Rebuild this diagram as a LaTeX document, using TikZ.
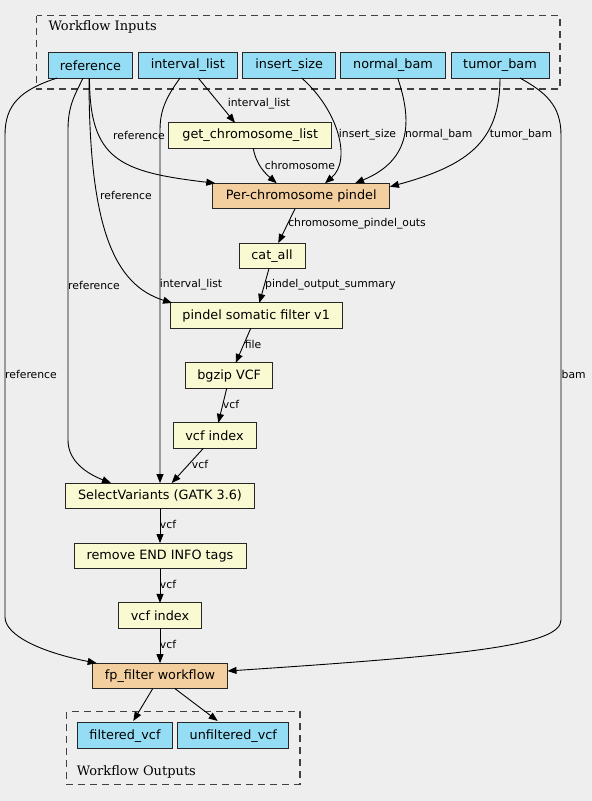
\documentclass[tikz,border=0pt]{standalone}
\usepackage{fontspec}
\setmainfont{DejaVu Sans}
\newfontfamily\clfont{DejaVu Serif}
\usetikzlibrary{arrows.meta,calc}
\definecolor{bgc}{RGB}{238,238,238}
\definecolor{inblue}{RGB}{148,221,244}
\definecolor{stepy}{RGB}{250,250,210}
\definecolor{wfpeach}{RGB}{243,206,158}
\definecolor{clgray}{RGB}{64,64,64}
\tikzset{
  box/.style={draw=black!85,line width=1pt,inner sep=0pt,outer sep=0pt,minimum height=25.5pt,font=\fontsize{12.8}{14}\selectfont},
  inbox/.style={box,fill=inblue},
  stepbox/.style={box,fill=stepy},
  wfbox/.style={box,fill=wfpeach},
  edge/.style={draw=black,line width=0.9pt,-{Triangle[length=9pt,width=7pt]}},
  lbl/.style={inner sep=0pt,font=\fontsize{10.8}{12}\selectfont},
  cluster/.style={draw=clgray,line width=1.2pt,dash pattern=on 7pt off 5pt},
  cllabel/.style={inner sep=0pt,anchor=west,font=\clfont\fontsize{13}{15}\selectfont}
}
\begin{document}
\begin{tikzpicture}[x=1pt,y=-1pt]
\fill[bgc] (0,0) rectangle (592,801);
\useasboundingbox (0,0) rectangle (592,801);
% clusters
\draw[cluster] (36.7,15.7) rectangle (560,89);
\node[cllabel] (inlabel) at (48.3,27) {Workflow Inputs};
\draw[cluster] (66.7,711.7) rectangle (300,784.3);
\node[cllabel] (outlabel) at (76.7,771.5) {Workflow Outputs};
% input nodes
\node[inbox,minimum width=84pt] (ref) at (90.5,65.3) {reference};
\node[inbox,minimum width=99pt] (ivl) at (187.8,65.3) {interval\_list};
\node[inbox,minimum width=93pt] (ins) at (289.2,65.3) {insert\_size};
\node[inbox,minimum width=104.6pt] (nbam) at (393,65.3) {normal\_bam};
\node[inbox,minimum width=98pt] (tbam) at (500,65.3) {tumor\_bam};
% steps
\node[stepbox,minimum width=162.7pt] (gcl) at (250.3,135.5) {get\_chromosome\_list};
\node[wfbox,minimum width=177.3pt] (pcp) at (301.3,196) {Per-chromosome pindel};
\node[stepbox,minimum width=66pt] (cat) at (272,255.8) {cat\_all};
\node[stepbox,minimum width=172.3pt] (psf) at (256.2,315.7) {pindel somatic filter v1};
\node[stepbox,minimum width=87pt] (bgz) at (229.2,375.7) {bgzip VCF};
\node[stepbox,minimum width=83pt] (vi1) at (214.5,435.6) {vcf index};
\node[stepbox,minimum width=188.6pt] (sv) at (160,495.8) {SelectVariants (GATK 3.6)};
\node[stepbox,minimum width=172pt] (rei) at (160,555.8) {remove END INFO tags};
\node[stepbox,minimum width=83.4pt] (vi2) at (160,615.7) {vcf index};
\node[wfbox,minimum width=135pt] (fpf) at (160,675.9) {fp\_filter workflow};
% outputs
\node[inbox,minimum width=95.4pt] (fvcf) at (125,735.7) {filtered\_vcf};
\node[inbox,minimum width=111.3pt] (ufvcf) at (233.3,735.7) {unfiltered\_vcf};
% edges
\draw[edge] ($(ivl.south)+(10.5,0)$) -- ($(gcl.north)+(-15.3,0)$);
\draw[edge] ($(ref.south)+(-1,0)$) .. controls (89.5,160) and (120,172) .. ($(pcp.north)+(-86,0)$);
\draw[edge] ($(gcl.south)+(3,0)$) .. controls (256,165) and (266,174) .. ($(pcp.north)+(-24.6,0)$);
\draw[edge] ($(ins.south)+(12.5,0)$) .. controls (338,110) and (352,160) .. ($(pcp.north)+(23.7,0)$);
\draw[edge] ($(nbam.south)+(4.7,0)$) .. controls (412,120) and (412,160) .. ($(pcp.north)+(53.7,0)$);
\draw[edge] (tbam.south) .. controls (500,140) and (470,165) .. ($(pcp.east)+(0,-9.3)$);
\draw[edge] ($(pcp.south)+(-6.3,0)$) -- ($(cat.north)+(6.3,0)$);
\draw[edge] ($(cat.south)+(-3,0)$) -- ($(psf.north)+(3.1,0)$);
\draw[edge] ($(ref.south)+(-1.5,0)$) .. controls (89,230) and (115,285) .. ($(psf.north)+(-84.2,0)$);
\draw[edge] ($(psf.south)+(-5.5,0)$) -- ($(bgz.north)+(6.5,0)$);
\draw[edge] ($(bgz.south)+(-2.5,0)$) -- ($(vi1.north)+(3.8,0)$);
\draw[edge] ($(vi1.south)+(-11.2,0)$) -- ($(sv.north)+(11.7,0)$);
\draw[edge] ($(ref.south)+(-7.5,0)$) .. controls (75,95) and (68,105) .. (68,130) -- (68,440) .. controls (68,462) and (88,474) .. ($(sv.north)+(-49,0)$);
\draw[edge] ($(ivl.south)+(-7.8,0)$) .. controls (168,95) and (160,108) .. (160,130) -- (sv.north);
\draw[edge] (sv.south) -- (rei.north);
\draw[edge] (rei.south) -- (vi2.north);
\draw[edge] (vi2.south) -- (fpf.north);
\draw[edge] ($(ref.south)+(-33.5,0)$) .. controls (20,90) and (5,105) .. (5,135) -- (5,617) .. controls (5,635) and (40,652) .. ($(fpf.north)+(-63.3,0)$);
\draw[edge] ($(tbam.south)+(20,0)$) .. controls (545,92) and (561,105) .. (561,135) -- (561,620) .. controls (561,645) and (470,655) .. ($(fpf.east)+(0,-4.9)$);
\draw[edge] ($(fpf.south)+(-7.3,0)$) -- ($(fvcf.north)+(8.3,-2)$);
\draw[edge] ($(fpf.south)+(15,0)$) -- ($(ufvcf.north)+(-15.6,-2)$);
% edge labels
\node[lbl] (l1) at (259,104) {interval\_list};
\node[lbl] (l2) at (139,135) {reference};
\node[lbl] (l3) at (300,165) {chromosome};
\node[lbl] (l4) at (367.5,135) {insert\_size};
\node[lbl] (l5) at (438.7,135) {normal\_bam};
\node[lbl] (l6) at (521,135) {tumor\_bam};
\node[lbl] (l7) at (357,224) {chromosome\_pindel\_outs};
\node[lbl] (l8) at (330.5,285) {pindel\_output\_summary};
\node[lbl] (l9) at (126,195) {reference};
\node[lbl] (l10) at (253,344) {file};
\node[lbl] (l11) at (231,404) {vcf};
\node[lbl] (l12) at (200,464) {vcf};
\node[lbl] (l13) at (94,285) {reference};
\node[lbl] (l14) at (191,285) {interval\_list};
\node[lbl] (l15) at (168,524) {vcf};
\node[lbl] (l16) at (168,584) {vcf};
\node[lbl] (l17) at (168,644) {vcf};
\node[lbl] (l18) at (31,374.5) {reference};
\node[lbl] (l19) at (573.7,374.5) {bam};
\end{tikzpicture}
\end{document}
